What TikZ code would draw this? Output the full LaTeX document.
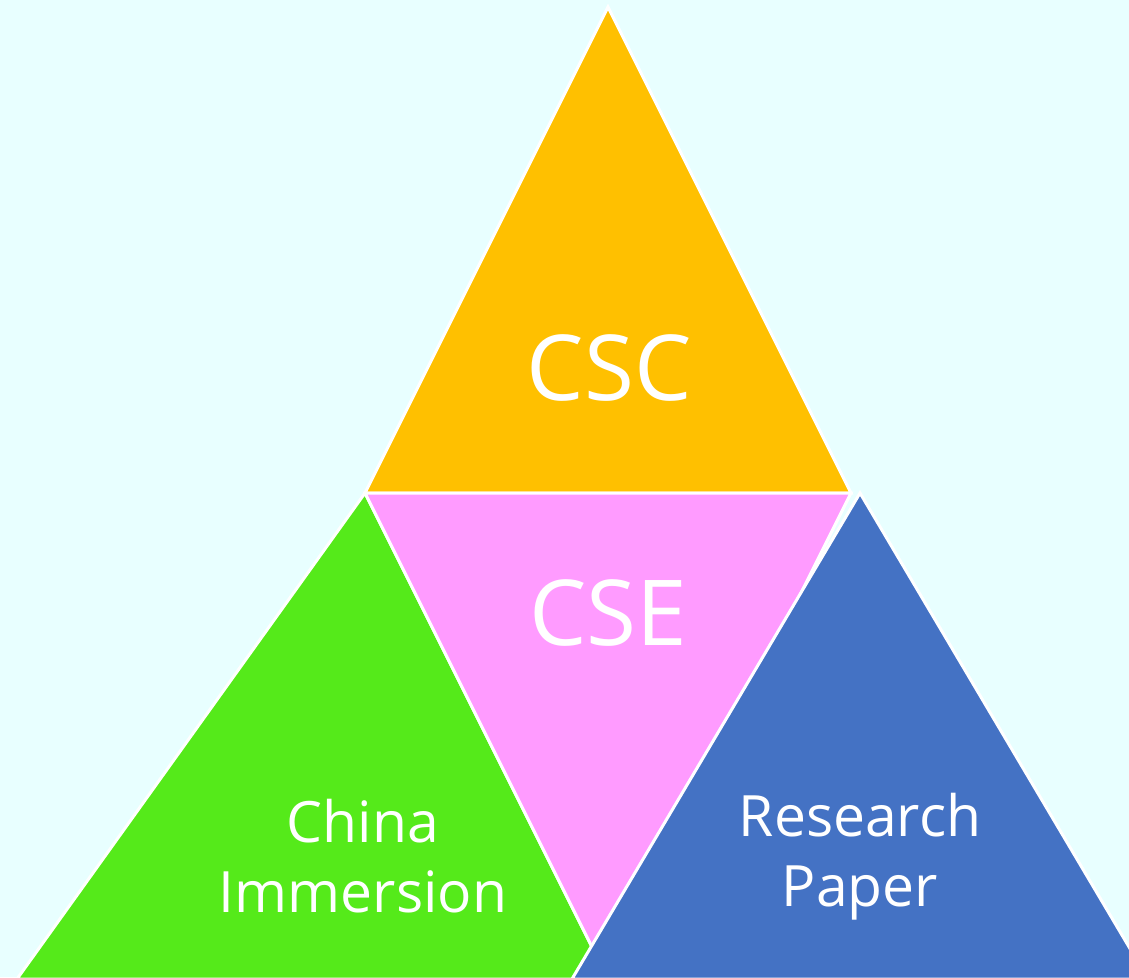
\documentclass[tikz,border=0pt]{standalone}
\usepackage{fontspec}
\setmainfont{Open Sans}
\usepackage{xcolor}
\definecolor{paleCyan}{RGB}{232, 255, 255}
\definecolor{cscYellow}{RGB}{255, 192, 0}
\definecolor{csePink}{RGB}{255, 155, 255}
\definecolor{chinaGreen}{RGB}{85, 234, 26}
\definecolor{paperBlue}{RGB}{68, 114, 196}
\usepackage{tikz}
\usetikzlibrary{positioning}

\tikzset{
  piece/.style={draw=white, line width=3pt, line join=miter},
  label/.style={text=white, inner sep=0pt, align=center}
}

\begin{document}
\begin{tikzpicture}[x=1pt, y=-1pt]
\fill[paleCyan] (0,0) rectangle (1129,977);
\useasboundingbox (0,0) rectangle (1129,977);
% corners of the pieces
\coordinate (top) at (608,7);
\coordinate (midL) at (365,493);
\coordinate (midR) at (851,493);
\coordinate (low) at (608,979);
\coordinate (greenL) at (17,979);
\coordinate (blueTop) at (860,493);
\coordinate (blueL) at (572,979);
\coordinate (blueR) at (1148,979);
% pieces
\draw[piece, fill=cscYellow] (top) -- (midR) -- (midL) -- cycle;
\draw[piece, fill=chinaGreen] (midL) -- (low) -- (greenL) -- cycle;
\draw[piece, fill=csePink] (midL) -- (midR) -- (low) -- cycle;
\draw[piece, fill=paperBlue] (blueTop) -- (blueR) -- (blueL) -- cycle;
% texts
\node[label, anchor=base, font=\fontsize{91}{100}\selectfont] (csc) at (609,400) {CSC};
\node[label, anchor=base, font=\fontsize{91}{100}\selectfont] (cse) at (608,645) {CSE};
\node[label, font=\fontsize{57}{70}\selectfont] (china) at (363,856) {China\\Immersion};
\node[label, font=\fontsize{57}{70}\selectfont] (paper) at (860,857) {Research\\Paper};
\end{tikzpicture}
\end{document}
